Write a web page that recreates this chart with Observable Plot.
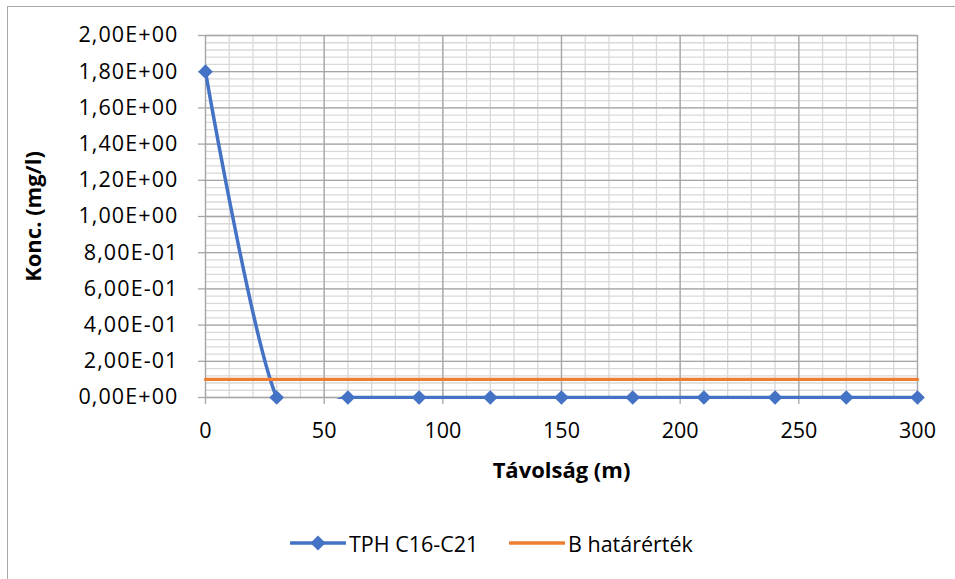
<!DOCTYPE html>
<html>
<head>
<meta charset="utf-8">
<script src="https://cdn.jsdelivr.net/npm/d3@7"></script>
<script src="https://cdn.jsdelivr.net/npm/@observablehq/plot@0.6"></script>
<style>
  html, body { margin: 0; padding: 0; background: #fff; }
  #wrap { position: relative; width: 955px; height: 579px; overflow: hidden; font-family: "Open Sans", sans-serif; }
  #border { position: absolute; left: 7px; top: 6px; width: 2000px; height: 2000px; border-left: 1.5px solid #a9a9a9; border-top: 1.5px solid #a9a9a9; }
  #chart { position: absolute; left: 0; top: 0; }
  .leg { position: absolute; top: 528px; display: flex; align-items: center; font-size: 21.5px; color: #000; height: 30px; }
  .leg svg { margin-right: 3px; }
  g[aria-label="y-axis tick label"] text { letter-spacing: 1.1px; }
</style>
</head>
<body>
<div id="wrap">
  <div id="border"></div>
  <div id="chart"></div>
  <div class="leg" style="left:290px;" id="leg1"></div>
  <div class="leg" style="left:509px;" id="leg2"></div>
</div>
<script>
// ---- data ----
const seriesNames = ["TPH C16-C21", "B határérték"];
const distances = [0, 30, 60, 90, 120, 150, 180, 210, 240, 270, 300];
const tphValues = [1.8, 0, 0, 0, 0, 0, 0, 0, 0, 0, 0];
const limitDistances = [0, 300];
const limitValues = [0.1, 0.1];
const xTicks = [0, 50, 100, 150, 200, 250, 300];
const xTickLabels = ["0", "50", "100", "150", "200", "250", "300"];
const yTicks = [0, 0.2, 0.4, 0.6, 0.8, 1.0, 1.2, 1.4, 1.6, 1.8, 2.0];
const yTickLabels = ["0,00E+00", "2,00E-01", "4,00E-01", "6,00E-01", "8,00E-01", "1,00E+00",
                     "1,20E+00", "1,40E+00", "1,60E+00", "1,80E+00", "2,00E+00"];
const xMinorTicks = d3.range(0, 301, 10);
const yMinorTicks = d3.range(0, 51).map(i => i * 0.04);
const xTitle = "Távolság (m)";
const yTitle = "Konc. (mg/l)";

const BLUE = "#4472C4", ORANGE = "#ED7D31";
const MINOR = "#d9d9d9", MAJOR = "#a6a6a6";

const tph = distances.map((x, i) => ({x, y: tphValues[i]}));
const limit = limitDistances.map((x, i) => ({x, y: limitValues[i]}));

const chart = Plot.plot({
  width: 955,
  height: 500,
  marginLeft: 205,
  marginRight: 38,
  marginTop: 35,
  marginBottom: 103,
  style: {fontFamily: "'Open Sans', sans-serif", background: "transparent", overflow: "visible", color: "#000"},
  x: {domain: [0, 300]},
  y: {domain: [0, 2]},
  marks: [
    Plot.gridX(xMinorTicks, {stroke: MINOR, strokeOpacity: 1, strokeWidth: 1.3}),
    Plot.gridY(yMinorTicks, {stroke: MINOR, strokeOpacity: 1, strokeWidth: 1.3}),
    Plot.gridX(xTicks, {stroke: MAJOR, strokeOpacity: 1, strokeWidth: 1.3}),
    Plot.gridY(yTicks, {stroke: MAJOR, strokeOpacity: 1, strokeWidth: 1.3}),
    Plot.axisX(xTicks, {
      tickSize: 7, tickPadding: 18, stroke: MAJOR, strokeWidth: 1.3, fill: "#000",
      fontSize: 21.5, label: null,
      tickFormat: d => xTickLabels[xTicks.indexOf(d)]
    }),
    Plot.axisY(yTicks, {
      tickSize: 7, tickPadding: 20, stroke: MAJOR, strokeWidth: 1.3, fill: "#000",
      fontSize: 21.5, label: null,
      tickFormat: d => yTickLabels[yTicks.indexOf(d)]
    }),
    Plot.line(tph, {x: "x", y: "y", stroke: BLUE, strokeWidth: 3.5, curve: "cardinal", clip: true}),
    Plot.dot(tph, {x: "x", y: "y", symbol: "diamond2", r: 6.6, fill: BLUE, stroke: "none"}),
    Plot.line(limit, {x: "x", y: "y", stroke: ORANGE, strokeWidth: 3.2}),
    Plot.text([xTitle], {frameAnchor: "bottom", dy: 73, fontSize: 22, fontWeight: "bold", fill: "#000", lineAnchor: "middle", textAnchor: "middle"}),
    Plot.text([yTitle], {frameAnchor: "left", dx: -172, rotate: -90, fontSize: 22, fontWeight: "bold", fill: "#000", lineAnchor: "middle", textAnchor: "middle"})
  ]
});
// let the clipped line keep its full stroke width along the bottom edge of the plot area
chart.querySelectorAll("clipPath rect").forEach(r => {
  const h = parseFloat(r.getAttribute("height"));
  r.setAttribute("height", h + 2);
});
document.getElementById("chart").appendChild(chart);

// legend
function swatch(color, marker) {
  const ns = "http://www.w3.org/2000/svg";
  const s = document.createElementNS(ns, "svg");
  s.setAttribute("width", 56); s.setAttribute("height", 20);
  const l = document.createElementNS(ns, "line");
  l.setAttribute("x1", 1); l.setAttribute("x2", 55); l.setAttribute("y1", 10); l.setAttribute("y2", 10);
  l.setAttribute("stroke", color); l.setAttribute("stroke-width", 3.5); l.setAttribute("stroke-linecap", "round");
  s.appendChild(l);
  if (marker) {
    const p = document.createElementNS(ns, "path");
    p.setAttribute("d", "M28,2.5L35.5,10L28,17.5L20.5,10Z");
    p.setAttribute("fill", color);
    s.appendChild(p);
  }
  return s;
}
const leg1 = document.getElementById("leg1");
leg1.appendChild(swatch(BLUE, true));
leg1.appendChild(document.createTextNode(seriesNames[0]));
const leg2 = document.getElementById("leg2");
leg2.appendChild(swatch(ORANGE, false));
leg2.appendChild(document.createTextNode(seriesNames[1]));
</script>
</body>
</html>
